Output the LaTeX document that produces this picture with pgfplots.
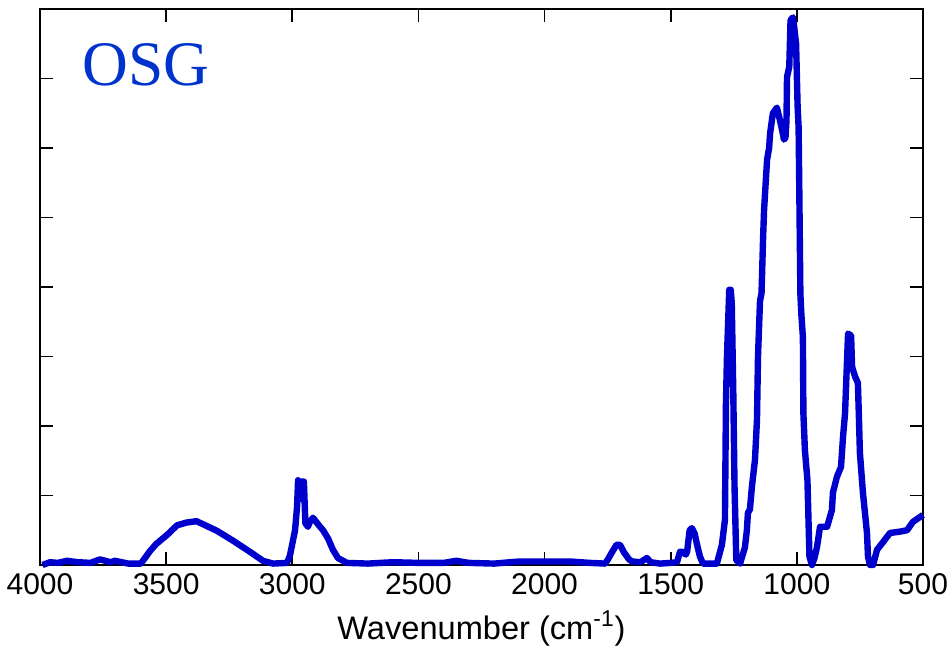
\documentclass[border=0pt]{standalone}
\usepackage{pgfplots}
\pgfplotsset{compat=1.18}
\usetikzlibrary{calc}
\usepackage{fontspec}
\setmainfont{Liberation Sans}
\newfontfamily\timesfont{Liberation Serif}
\definecolor{specblue}{RGB}{0,0,204}
\definecolor{labelblue}{RGB}{0,51,204}

\begin{document}
\begin{tikzpicture}
\begin{axis}[
    scale only axis,
    width=441.5pt, height=278pt,
    xmin=500, xmax=4000, x dir=reverse,
    ymin=0, ymax=8,
    xtick={500,1000,...,4000},
    ytick={1,2,...,7},
    yticklabels={},
    tick align=inside,
    major tick length=6.5pt,
    axis line style={line width=0.8pt},
    every tick/.style={black, line width=0.8pt},
    /pgf/number format/assume math mode=true,
    /pgf/number format/set thousands separator={},
    ticklabel style={font=\fontsize{15}{18}\selectfont},
    xticklabel style={yshift=-1pt},
    xlabel={Wavenumber (cm\textsuperscript{-1})},
    xlabel style={font=\fontsize{16.3}{19}\selectfont, yshift=-1pt},
    clip=false,
]
\coordinate (sw) at (rel axis cs:0,0);
\coordinate (ne) at (rel axis cs:1,1);

\addplot[color=specblue, line width=3.2pt, line join=round] coordinates {
(3990,0.00)(3960,0.04)(3930,0.03)(3893,0.06)(3850,0.04)(3800,0.03)
(3762,0.08)(3720,0.04)(3703,0.06)(3650,0.02)(3600,0.02)
(3564,0.20)(3540,0.30)(3497,0.43)(3457,0.57)(3420,0.61)(3380,0.63)
(3350,0.58)(3298,0.49)(3235,0.35)(3168,0.19)(3116,0.06)(3076,0.02)
(3021,0.03)(3009,0.14)(2989,0.50)(2981,0.84)(2977,1.22)(2969,0.95)
(2964,1.20)(2954,1.20)(2948,0.60)(2938,0.55)(2930,0.62)(2918,0.68)
(2905,0.62)(2890,0.55)(2878,0.50)(2858,0.38)(2839,0.22)(2819,0.10)
(2783,0.03)(2700,0.02)(2600,0.04)(2500,0.03)(2400,0.03)(2350,0.06)
(2300,0.03)(2200,0.02)(2100,0.05)(2000,0.05)(1900,0.05)(1820,0.03)
(1760,0.02)(1749,0.08)(1730,0.20)(1715,0.29)(1701,0.29)(1685,0.18)
(1665,0.08)(1653,0.05)(1620,0.04)(1594,0.10)(1580,0.04)(1542,0.02)
(1500,0.03)(1475,0.04)(1463,0.19)(1455,0.19)(1440,0.15)(1435,0.19)
(1425,0.50)(1416,0.53)(1405,0.45)(1396,0.30)(1384,0.12)(1372,0.02)
(1317,0.02)(1297,0.29)(1285,0.65)(1281,2.33)(1277,3.00)(1268,3.96)
(1262,3.96)(1258,3.77)(1252,2.50)(1247,1.13)(1240,0.07)(1225,0.02)
(1206,0.25)(1198,0.50)(1194,0.75)(1186,0.80)(1178,1.13)(1166,1.51)
(1158,2.09)(1154,3.00)(1146,3.80)(1140,3.91)(1134,4.68)(1130,5.10)
(1126,5.35)(1118,5.83)(1110,6.00)(1106,6.21)(1095,6.50)(1085,6.55)
(1079,6.58)(1067,6.40)(1058,6.25)(1051,6.12)(1045,6.15)(1041,6.40)
(1039,7.02)(1030,7.17)(1025,7.84)(1015,7.88)(1003,7.50)(997,6.60)
(993,6.30)(990,5.30)(986,3.90)(982,3.60)(976,3.28)(974,2.18)
(968,1.65)(958,1.22)(950,0.12)(940,0.00)(930,0.10)(920,0.26)
(908,0.55)(880,0.55)(861,0.79)(857,1.04)(841,1.27)(825,1.41)
(817,1.84)(809,2.18)(801,2.95)(797,3.33)(785,3.30)(781,2.85)
(769,2.71)(758,2.62)(754,2.13)(750,1.61)(738,1.04)(722,0.46)
(718,0.12)(710,0.00)(698,0.00)(682,0.22)(658,0.33)(631,0.46)
(591,0.48)(563,0.50)(540,0.62)(500,0.72)
};

\node[anchor=base west, text=labelblue, font=\timesfont\fontsize{31.7}{35}\selectfont, inner sep=0pt]
    at (rel axis cs:0.0476,0.8615) {OSG};
\end{axis}
\pgfresetboundingbox
\useasboundingbox ($(sw)+(-20pt,-40.5pt)$) rectangle ($(ne)+(14.5pt,4.5pt)$);
\end{tikzpicture}
\end{document}
